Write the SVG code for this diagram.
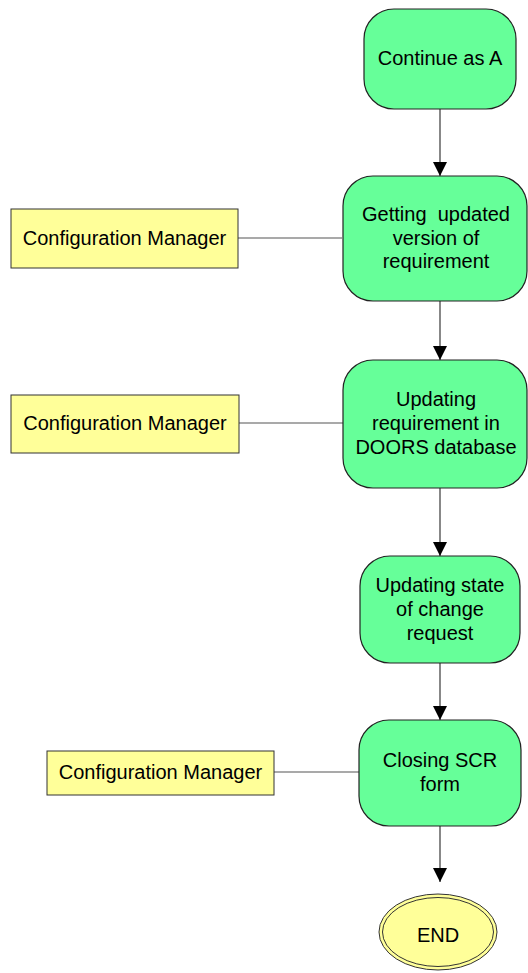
<svg xmlns="http://www.w3.org/2000/svg" width="528" height="973" viewBox="0 0 528 973">
  <style>
    .step { fill: #66FF99; stroke: #222; stroke-width: 1.2; }
    .role { fill: #FFFF99; stroke: #333; stroke-width: 1; }
    .term { fill: #FFFF99; stroke: #333; stroke-width: 1; }
    .lbl { font-family: "Liberation Sans", Arial, sans-serif; font-size: 20px; fill: #000; text-anchor: middle; white-space: pre; }
    .flow { stroke: #555; stroke-width: 1.4; fill: none; marker-end: url(#arrow); }
    .link { stroke: #555; stroke-width: 1.2; fill: none; }
  </style>
  <defs>
    <!-- triangle drawn along +x so orient="auto" points it down the line -->
    <marker id="arrow" markerUnits="userSpaceOnUse" markerWidth="15" markerHeight="14" refX="14" refY="7" orient="auto" viewBox="0 0 15 14">
      <path d="M0,0 L14,7 L0,14 Z" fill="#000"/>
    </marker>
  </defs>
  <rect width="528" height="973" fill="#fff"/>

  <!-- connectors -->
  <g id="connectors">
    <line class="flow" x1="440" y1="109" x2="440" y2="176"/>
    <line class="flow" x1="440" y1="301" x2="440" y2="360"/>
    <line class="flow" x1="440" y1="488" x2="440" y2="556"/>
    <line class="flow" x1="440" y1="663" x2="440" y2="720"/>
    <line class="flow" x1="440" y1="826" x2="440" y2="882"/>
    <line class="link" x1="238" y1="238" x2="342" y2="238"/>
    <line class="link" x1="239" y1="423" x2="343" y2="423"/>
    <line class="link" x1="274" y1="772" x2="359" y2="772"/>
  </g>

  <g id="continue-a">
    <rect class="step" x="364" y="9" width="152" height="100" rx="30" ry="30"/>
    <text class="lbl" x="440" y="65">Continue as A</text>
  </g>

  <g id="get-version">
    <rect class="step" x="343" y="176" width="184" height="125" rx="30" ry="30"/>
    <text class="lbl" x="436" y="221" xml:space="preserve">Getting  updated</text>
    <text class="lbl" x="436" y="244.5">version of</text>
    <text class="lbl" x="436" y="268">requirement</text>
  </g>

  <g id="cm-1">
    <rect class="role" x="11" y="209" width="227" height="59"/>
    <text class="lbl" x="124.5" y="245">Configuration Manager</text>
  </g>

  <g id="update-doors">
    <rect class="step" x="343" y="360" width="184" height="128" rx="30" ry="30"/>
    <text class="lbl" x="436" y="406">Updating</text>
    <text class="lbl" x="436" y="430">requirement in</text>
    <text class="lbl" x="436" y="454">DOORS database</text>
  </g>

  <g id="cm-2">
    <rect class="role" x="11" y="395" width="228" height="58"/>
    <text class="lbl" x="125" y="430">Configuration Manager</text>
  </g>

  <g id="update-state">
    <rect class="step" x="360" y="556" width="160" height="107" rx="30" ry="30"/>
    <text class="lbl" x="440" y="592">Updating state</text>
    <text class="lbl" x="440" y="616">of change</text>
    <text class="lbl" x="440" y="640">request</text>
  </g>

  <g id="close-scr">
    <rect class="step" x="359" y="720" width="162" height="106" rx="30" ry="30"/>
    <text class="lbl" x="440" y="767">Closing SCR</text>
    <text class="lbl" x="440" y="791">form</text>
  </g>

  <g id="cm-3">
    <rect class="role" x="47" y="751" width="227" height="44"/>
    <text class="lbl" x="160.5" y="779">Configuration Manager</text>
  </g>

  <g id="end">
    <ellipse class="term" cx="438" cy="932" rx="59" ry="38"/>
    <ellipse class="term" cx="438" cy="932" rx="55.5" ry="34.5"/>
    <text class="lbl" x="438" y="942">END</text>
  </g>
</svg>
